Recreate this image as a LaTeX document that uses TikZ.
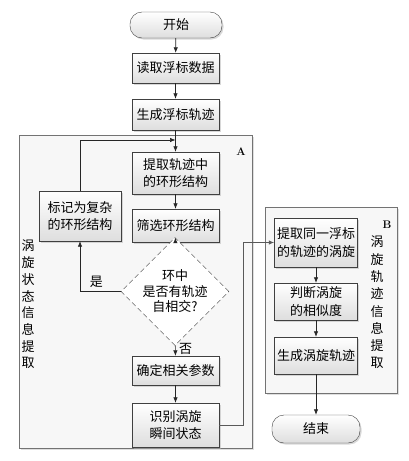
\documentclass[tikz,border=0pt]{standalone}
\usepackage{fontspec}
\newfontfamily\cjk{Noto Sans CJK SC}
\usetikzlibrary{shapes.geometric,shadows,arrows.meta,calc}
\begin{document}
\begin{tikzpicture}[x=1pt,y=-1pt,
  txt/.style={font=\cjk\fontsize{13}{17.5}\selectfont, align=center},
  proc/.style={txt, draw=black!75, top color=white, bottom color=black!13,
    drop shadow={shadow xshift=1.5pt,shadow yshift=-1.5pt,fill=black!30},
    inner sep=1pt, minimum width=87pt},
  term/.style={proc, rounded corners=12pt},
  region/.style={draw=black!55, fill=black!3,
    drop shadow={shadow xshift=1.5pt,shadow yshift=-1.5pt,fill=black!25}},
  decide/.style={txt, shape=diamond, draw=black!80, dashed, dash pattern=on 5pt off 3pt,
    fill=white, inner sep=0pt, minimum width=107pt, minimum height=71pt},
  arr/.style={draw=black!85, line width=0.7pt, -{Latex[length=5.5pt,width=4.5pt]}},
  arrg/.style={draw=black!65, line width=1pt, -{Latex[length=5.5pt,width=4.5pt]}},
  vert/.style={font=\cjk\fontsize{13}{16.7}\selectfont, align=center},
  tag/.style={font=\bfseries\fontsize{11}{13}\selectfont}
]
\useasboundingbox (0,0) rectangle (408,461);
% group regions
\node[region, minimum width=233pt, minimum height=313pt] (A) at (135.5,291.5) {};
\node[region, minimum width=132pt, minimum height=186pt] (B) at (331,300) {};
\node[tag] (Alab) at (241,152) {A};
\node[tag] (Blab) at (387,225) {B};
\node[vert] (Av) at (28,304.5) {涡\\旋\\状\\态\\信\\息\\提\\取};
\node[vert, font=\cjk\fontsize{13}{17.3}\selectfont] (Bv) at (377,302.5) {涡\\旋\\轨\\迹\\信\\息\\提\\取};
% nodes
\node[term, minimum width=92pt, minimum height=26pt] (start) at (176,25) {开始};
\node[proc, minimum height=30pt] (read) at (175.5,68) {读取浮标数据};
\node[proc, minimum height=31pt] (gen) at (175.5,114.5) {生成浮标轨迹};
\node[proc, minimum height=42pt] (ext) at (175.5,173) {提取轨迹中\\的环形结构};
\node[proc, minimum height=33pt] (filt) at (175.5,225.5) {筛选环形结构};
\node[decide] (dia) at (175,291.5) {环中\\[-2pt]是否有轨迹\\[-2pt]自相交?};
\node[proc, minimum height=29pt] (det) at (175.5,370.5) {确定相关参数};
\node[proc, minimum height=44pt] (ident) at (175.5,425) {识别涡旋\\瞬间状态};
\node[proc, minimum width=82pt, minimum height=50pt] (mark) at (80,216) {标记为复杂\\的环形结构};
\node[proc, minimum width=83pt, minimum height=49pt] (bext) at (316,242.5) {提取同一浮标\\的轨迹的涡旋};
\node[proc, minimum width=83pt, minimum height=37pt] (judge) at (316,301.5) {判断涡旋\\的相似度};
\node[proc, minimum width=83pt, minimum height=37pt] (gvt) at (316,355.5) {生成涡旋轨迹};
\node[term, minimum width=88pt, minimum height=28pt] (end) at (316,429) {结束};
\coordinate (fb) at (175.5,140);
\coordinate (cx) at (243,0);
% connectors
\draw[arr] (start) -- (read);
\draw[arr] (read) -- (gen);
\draw[arr] (gen) -- (ext);
\draw[arr] (ext) -- (filt);
\draw[arr] (filt) -- (dia);
\draw[arr] (dia) -- node[txt, right, pos=0.3] (no) {否} (det);
\draw[arr] (det) -- (ident);
\draw[arr] (dia.west) -| node[txt, above, pos=0.3] (yes) {是} (mark.south);
\draw[arr] (mark.north) |- (fb);
\draw[arrg] (ident.east) -| (cx |- bext.west) -- (bext.west);
\draw[arr] (bext) -- (judge);
\draw[arr] (judge) -- (gvt);
\draw[arr] (gvt) -- (end);
\end{tikzpicture}
\end{document}
